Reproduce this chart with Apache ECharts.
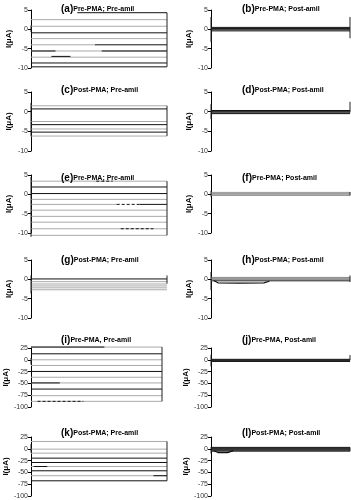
<!DOCTYPE html>
<html>
<head>
<meta charset="utf-8">
<script src="https://cdn.jsdelivr.net/npm/echarts@6/dist/echarts.min.js"></script>
<style>
  html, body { margin: 0; background: #fff; }
  #main { width: 351px; height: 500px; }
</style>
</head>
<body>
<div id="main"></div>
<script>
// panel labels and titles
const panelLetters = ['a', 'b', 'c', 'd', 'e', 'f', 'g', 'h', 'i', 'j', 'k', 'l'];
const panelTitles = [
  'Pre-PMA; Pre-amil', 'Pre-PMA; Post-amil',
  'Post-PMA; Pre-amil', 'Post-PMA; Post-amil',
  'Pre-PMA; Pre-amil', 'Pre-PMA; Post-amil',
  'Post-PMA; Pre-amil', 'Post-PMA; Post-amil',
  'Pre-PMA, Pre-amil', 'Pre-PMA, Post-amil',
  'Post-PMA; Pre-amil', 'Post-PMA; Post-amil'
];
// y tick labels (μA)
const smallTicks = [5, 0, -5, -10];
const largeTicks = [25, 0, -25, -50, -75, -100];

// traces: [current μA, start %, end %]
const grayA = [[2.5, 0, 100], [0.8, 0, 100], [-2.4, 0, 100], [-4.0, 0, 47], [-5.6, 0, 100], [-7.2, 0, 100]];
const blackA = [[4.3, 34, 100], [-0.9, 0, 100], [-4.0, 47, 100], [-5.6, 0, 18], [-5.6, 52, 100], [-7.0, 15, 29], [-8.7, 0, 100], [-9.7, 0, 100]];
const edgeA = [[1.0, -0.7], [4.3, -9.7]];

const blackB = [[0.5, 0, 100], [0.2, 0, 100], [-0.1, 0, 100], [-0.4, 0, 100]];
const edgeB = [[3.2, -3.3], [3.2, -2.3]];

const grayC = [[1.5, 0, 100], [-2.5, 0, 100], [-4.4, 0, 100], [-6.2, 0, 100]];
const blackC = [[0.7, 0, 100], [-3.3, 0, 100], [-5.2, 0, 100]];
const edgeC = [[2.2, -6.3], [1.5, -6.2]];

const blackD = [[0.3, 0, 100], [0, 0, 100], [-0.3, 0, 100], [-0.5, 0, 100]];
const edgeD = [[1.9, -1.9], [2.5, -0.2]];

const grayE = [[3.4, 0, 100], [-1.3, 0, 100], [-2.6, 0, 63], [-4.1, 0, 100], [-5.7, 0, 100], [-7.2, 0, 100], [-8.9, 0, 100], [-10.6, 0, 100]];
const blackE = [[1.9, 0, 100], [0.2, 0, 100], [-2.6, 80, 100]];
const dashE = [[3.4, 48, 60], [-2.6, 63, 80], [-8.9, 66, 90]];
const edgeE = [[4.5, -11], [3.4, -10.6]];

const grayF = [[0.5, 0, 100], [0.2, 0, 100], [-0.1, 0, 100], [-0.3, 0, 100]];
const edgeF = [[0.9, -0.6], [0.6, -0.3]];

const blackG = [[0.1, 0, 100]];
const grayG = [[-0.6, 0, 100], [-1.2, 0, 100], [-1.7, 0, 100], [-2.2, 0, 100], [-2.7, 0, 100]];
const edgeG = [[1.0, -3.7], [1.0, -1.1]];

const grayH = [[0.5, 0, 100], [0.3, 0, 100], [0.1, 0, 100]];
const darkH = [[-0.2, 0, 100], [-0.4, 0, 100]];
const dipH = [[2, -0.3], [5, -0.9], [20, -1.0], [38, -0.9], [42, -0.5]];
const edgeH = [[1.9, -2.8], [1.0, -0.7]];

const grayI = [[27, 0, 100], [0, 0, 100], [-12, 0, 100], [-37, 0, 100], [-49, 0, 100], [-76, 0, 100], [-88, 0, 100]];
const blackI = [[27, 0, 56], [12.7, 0, 100], [-24.7, 0, 100], [-49, 0, 22], [-62, 0, 100]];
const dashI = [[-88, 5, 40]];
const edgeI = [[4, -10], [27, -88]];

const blackJ = [[1, 0, 100], [-0.5, 0, 100], [-2, 0, 100], [-3.5, 0, 100]];
const edgeJ = [[10.6, -14], [10, -1]];

const grayK = [[15.5, 0, 100], [-0.7, 0, 100], [-9.2, 0, 100], [-37.5, 0, 100], [-57, 0, 100]];
const blackK = [[-19.8, 0, 100], [-29, 0, 100], [-46.6, 0, 100], [-67.8, 0, 100], [-37.5, 2, 12], [-57, 90, 100]];
const edgeK = [[10, -8], [15.5, -67.8]];

const blackL = [[3, 0, 100], [1, 0, 100], [-1, 0, 100], [-3, 0, 100], [-5, 0, 100]];
const dipL = [[2, -4], [5, -8], [12, -8], [16, -4]];
const edgeL = [[3.5, -10], [3, -5]];

const panels = [
  { gray: grayA, black: blackA, edge: edgeA },
  { black: blackB, edge: edgeB },
  { gray: grayC, black: blackC, edge: edgeC },
  { black: blackD, edge: edgeD },
  { gray: grayE, black: blackE, dash: dashE, edge: edgeE },
  { gray: grayF, edge: edgeF, grayColor: '#999' },
  { gray: grayG, black: blackG, edge: edgeG },
  { gray: grayH, dark: darkH, curve: dipH, edge: edgeH, grayColor: '#8a8a8a' },
  { gray: grayI, black: blackI, dash: dashI, edge: edgeI },
  { black: blackJ, edge: edgeJ },
  { gray: grayK, black: blackK, edge: edgeK },
  { black: blackL, curve: dipL, edge: edgeL }
];

const FONT = '"Liberation Sans", Arial, sans-serif';
const rowTop = [10, 92, 175, 260, 348, 437];
const rowBase = [68, 151, 233, 318, 407, 496];
const rowTitle = [-1, 80, 168, 250, 330, 423];

const grids = [], xAxes = [], yAxes = [], series = [], titles = [];

function seg(i, tr, color, width, type) {
  series.push({
    type: 'line', xAxisIndex: i, yAxisIndex: i, showSymbol: false, clip: false, silent: true,
    lineStyle: { color: color, width: width, type: type || 'solid' },
    data: [[tr[1], tr[0]], [tr[2], tr[0]]]
  });
}

panels.forEach(function (p, i) {
  const row = Math.floor(i / 2), col = i % 2;
  const ticks = row < 4 ? smallTicks : largeTicks;
  let right = col === 0 ? 184 : 1;
  if (i === 8) right = 189;
  grids.push({ left: col === 0 ? 31 : 211, right: right, top: rowTop[row], bottom: 500 - rowBase[row] });
  xAxes.push({ gridIndex: i, type: 'value', min: 0, max: 100, show: false });
  yAxes.push({
    gridIndex: i, type: 'value',
    min: ticks[ticks.length - 1], max: ticks[0], interval: ticks[0] - ticks[1],
    name: 'I(μA)', nameLocation: 'middle', nameGap: 18, nameRotate: 90,
    nameTextStyle: { fontSize: 8, fontWeight: 'bold', color: '#000', fontFamily: FONT },
    axisLine: { show: true, lineStyle: { color: '#000', width: 1 } },
    axisTick: { show: true, length: 3, lineStyle: { color: '#000' } },
    axisLabel: { fontSize: 7, color: '#333', margin: 3, fontFamily: FONT },
    splitLine: { show: false }
  });
  titles.push({
    text: '{l|(' + panelLetters[i] + ')}{t|' + panelTitles[i] + '}',
    left: col === 0 ? 56 : 237, top: rowTitle[row],
    textStyle: {
      rich: {
        l: { fontSize: 10, color: '#000', fontFamily: FONT },
        t: { fontSize: 7, fontWeight: 'bold', color: '#000', fontFamily: FONT }
      }
    }
  });
  (p.gray || []).forEach(tr => seg(i, tr, p.grayColor || '#aaa', 1));
  (p.dark || []).forEach(tr => seg(i, tr, '#444', 1));
  (p.black || []).forEach(tr => seg(i, tr, '#111', 1));
  (p.dash || []).forEach(tr => seg(i, tr, '#111', 1, [3, 2]));
  if (p.curve) {
    series.push({
      type: 'line', xAxisIndex: i, yAxisIndex: i, showSymbol: false, clip: false, silent: true,
      lineStyle: { color: '#111', width: 1.2 }, data: p.curve
    });
  }
  [0, 100].forEach(function (t, k) {
    series.push({
      type: 'line', xAxisIndex: i, yAxisIndex: i, showSymbol: false, clip: false, silent: true,
      lineStyle: { color: '#222', width: 1 },
      data: [[t, p.edge[k][0]], [t, p.edge[k][1]]]
    });
  });
});

const chart = echarts.init(document.getElementById('main'));
chart.setOption({
  animation: false,
  backgroundColor: '#fff',
  title: titles,
  grid: grids,
  xAxis: xAxes,
  yAxis: yAxes,
  series: series
});
</script>
</body>
</html>
